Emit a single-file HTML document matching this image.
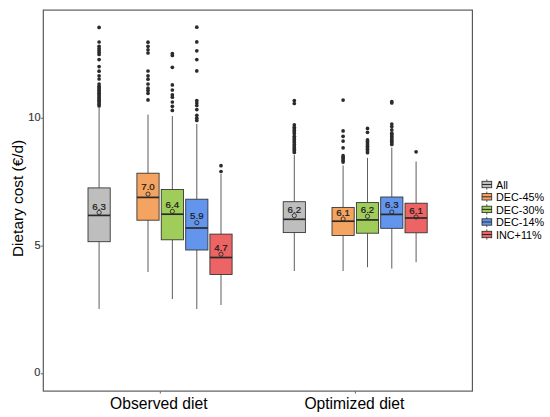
<!DOCTYPE html>
<html><head><meta charset="utf-8"><style>
html,body{margin:0;padding:0;background:#fff;}
body{width:550px;height:417px;overflow:hidden;}
svg{display:block;font-family:"Liberation Sans",sans-serif;}
.wh{stroke:#555;stroke-width:0.95;}
.bx{stroke:#2e2e2e;stroke-width:0.85;}
.md{stroke:#2a2a2a;stroke-width:1.7;}
.lmd{stroke:#2a2a2a;stroke-width:1;}
.mn{fill:none;stroke:#2a2a2a;stroke-width:0.9;}
.pt circle{fill:#2b2b2b;}
.lb{font-size:9.7px;fill:#1a1a1a;stroke:#1a1a1a;stroke-width:0.22px;text-anchor:middle;}
.lt{font-size:10.8px;fill:#000;}
.tk{font-size:11px;fill:#333;stroke:#333;stroke-width:0.15px;text-anchor:end;}
.at{font-size:15.4px;fill:#000;}
.xl{font-size:15.65px;}
</style></head><body>
<svg width="550" height="417" viewBox="0 0 550 417">
<rect x="0" y="0" width="550" height="417" fill="#fff"/>
<line x1="99.1" y1="108.0" x2="99.1" y2="187.9" class="wh"/><line x1="99.1" y1="241.7" x2="99.1" y2="309.0" class="wh"/><g class="pt"><circle cx="99.1" cy="27.4" r="1.85"/><circle cx="99.1" cy="42.0" r="1.85"/><circle cx="99.1" cy="46.3" r="1.85"/><circle cx="99.1" cy="48.5" r="1.85"/><circle cx="99.1" cy="50.5" r="1.85"/><circle cx="99.1" cy="52.5" r="1.85"/><circle cx="99.1" cy="54.5" r="1.85"/><circle cx="99.1" cy="59.6" r="1.85"/><circle cx="99.1" cy="66.6" r="1.85"/><circle cx="99.1" cy="71.2" r="1.85"/><circle cx="99.1" cy="75.8" r="1.85"/><circle cx="99.1" cy="79.0" r="1.85"/><circle cx="99.1" cy="84.0" r="1.85"/><circle cx="99.1" cy="86.3" r="1.85"/><circle cx="99.1" cy="87.7" r="1.85"/><circle cx="99.1" cy="89.1" r="1.85"/><circle cx="99.1" cy="90.5" r="1.85"/><circle cx="99.1" cy="91.9" r="1.85"/><circle cx="99.1" cy="93.3" r="1.85"/><circle cx="99.1" cy="94.7" r="1.85"/><circle cx="99.1" cy="96.1" r="1.85"/><circle cx="99.1" cy="97.5" r="1.85"/><circle cx="99.1" cy="98.9" r="1.85"/><circle cx="99.1" cy="100.3" r="1.85"/><circle cx="99.1" cy="101.7" r="1.85"/><circle cx="99.1" cy="103.1" r="1.85"/><circle cx="99.1" cy="104.5" r="1.85"/><circle cx="99.1" cy="105.9" r="1.85"/></g><rect x="88.00" y="187.9" width="22.2" height="53.80" fill="#bebebe" class="bx"/><line x1="88.00" y1="215.4" x2="110.20" y2="215.4" class="md"/><circle cx="99.1" cy="212.5" r="2.1" class="mn"/><text x="99.1" y="209.7" class="lb">6.3</text><line x1="148.0" y1="114.6" x2="148.0" y2="173.2" class="wh"/><line x1="148.0" y1="220.2" x2="148.0" y2="272.0" class="wh"/><g class="pt"><circle cx="148.0" cy="42.2" r="1.85"/><circle cx="148.0" cy="46.3" r="1.85"/><circle cx="148.0" cy="49.8" r="1.85"/><circle cx="148.0" cy="53.0" r="1.85"/><circle cx="148.0" cy="71.0" r="1.85"/><circle cx="148.0" cy="75.8" r="1.85"/><circle cx="148.0" cy="79.2" r="1.85"/><circle cx="148.0" cy="84.0" r="1.85"/><circle cx="148.0" cy="88.2" r="1.85"/><circle cx="148.0" cy="90.5" r="1.85"/><circle cx="148.0" cy="93.3" r="1.85"/><circle cx="148.0" cy="99.9" r="1.85"/></g><rect x="136.90" y="173.2" width="22.2" height="47.00" fill="#f4a460" class="bx"/><line x1="136.90" y1="197.4" x2="159.10" y2="197.4" class="md"/><circle cx="148.0" cy="194.1" r="2.1" class="mn"/><text x="148.0" y="189.9" class="lb">7.0</text><line x1="172.35" y1="116.0" x2="172.35" y2="189.5" class="wh"/><line x1="172.35" y1="239.8" x2="172.35" y2="299.0" class="wh"/><g class="pt"><circle cx="172.35" cy="53.5" r="1.85"/><circle cx="172.35" cy="55.5" r="1.85"/><circle cx="172.35" cy="67.3" r="1.85"/><circle cx="172.35" cy="84.9" r="1.85"/><circle cx="172.35" cy="90.0" r="1.85"/><circle cx="172.35" cy="94.8" r="1.85"/><circle cx="172.35" cy="97.2" r="1.85"/><circle cx="172.35" cy="102.0" r="1.85"/><circle cx="172.35" cy="106.3" r="1.85"/><circle cx="172.35" cy="110.4" r="1.85"/></g><rect x="161.25" y="189.5" width="22.2" height="50.30" fill="#a0cd5a" class="bx"/><line x1="161.25" y1="214.2" x2="183.45" y2="214.2" class="md"/><circle cx="172.35" cy="211.4" r="2.1" class="mn"/><text x="172.35" y="207.6" class="lb">6.4</text><line x1="196.8" y1="124.0" x2="196.8" y2="199.2" class="wh"/><line x1="196.8" y1="250.0" x2="196.8" y2="309.0" class="wh"/><g class="pt"><circle cx="196.8" cy="27.2" r="1.85"/><circle cx="196.8" cy="41.9" r="1.85"/><circle cx="196.8" cy="50.8" r="1.85"/><circle cx="196.8" cy="59.6" r="1.85"/><circle cx="196.8" cy="70.9" r="1.85"/><circle cx="196.8" cy="100.6" r="1.85"/><circle cx="196.8" cy="103.0" r="1.85"/><circle cx="196.8" cy="105.5" r="1.85"/><circle cx="196.8" cy="109.6" r="1.85"/><circle cx="196.8" cy="115.3" r="1.85"/><circle cx="196.8" cy="118.2" r="1.85"/><circle cx="196.8" cy="120.4" r="1.85"/></g><rect x="185.70" y="199.2" width="22.2" height="50.80" fill="#6495ed" class="bx"/><line x1="185.70" y1="228.0" x2="207.90" y2="228.0" class="md"/><circle cx="196.8" cy="222.7" r="2.1" class="mn"/><text x="196.8" y="219.0" class="lb">5.9</text><line x1="221.0" y1="174.0" x2="221.0" y2="234.1" class="wh"/><line x1="221.0" y1="274.5" x2="221.0" y2="305.0" class="wh"/><g class="pt"><circle cx="221.0" cy="165.7" r="1.85"/><circle cx="221.0" cy="171.5" r="1.85"/></g><rect x="209.90" y="234.1" width="22.2" height="40.40" fill="#ec6464" class="bx"/><line x1="209.90" y1="257.5" x2="232.10" y2="257.5" class="md"/><circle cx="221.0" cy="254.2" r="2.1" class="mn"/><text x="221.0" y="250.6" class="lb">4.7</text><line x1="294.3" y1="155.0" x2="294.3" y2="201.7" class="wh"/><line x1="294.3" y1="232.6" x2="294.3" y2="271.0" class="wh"/><g class="pt"><circle cx="294.3" cy="100.5" r="1.85"/><circle cx="294.3" cy="103.5" r="1.85"/><circle cx="294.3" cy="124.8" r="1.85"/><circle cx="294.3" cy="127.2" r="1.85"/><circle cx="294.3" cy="128.8" r="1.85"/><circle cx="294.3" cy="130.4" r="1.85"/><circle cx="294.3" cy="132.0" r="1.85"/><circle cx="294.3" cy="133.6" r="1.85"/><circle cx="294.3" cy="136.2" r="1.85"/><circle cx="294.3" cy="137.8" r="1.85"/><circle cx="294.3" cy="139.4" r="1.85"/><circle cx="294.3" cy="141.0" r="1.85"/><circle cx="294.3" cy="142.6" r="1.85"/><circle cx="294.3" cy="144.4" r="1.85"/><circle cx="294.3" cy="146.0" r="1.85"/><circle cx="294.3" cy="147.6" r="1.85"/><circle cx="294.3" cy="149.2" r="1.85"/><circle cx="294.3" cy="150.8" r="1.85"/><circle cx="294.3" cy="152.4" r="1.85"/></g><rect x="283.20" y="201.7" width="22.2" height="30.90" fill="#bebebe" class="bx"/><line x1="283.20" y1="219.3" x2="305.40" y2="219.3" class="md"/><circle cx="294.3" cy="215.6" r="2.1" class="mn"/><text x="294.3" y="212.6" class="lb">6.2</text><line x1="343.1" y1="165.4" x2="343.1" y2="207.4" class="wh"/><line x1="343.1" y1="235.5" x2="343.1" y2="271.0" class="wh"/><g class="pt"><circle cx="343.1" cy="100.1" r="1.85"/><circle cx="343.1" cy="130.9" r="1.85"/><circle cx="343.1" cy="136.3" r="1.85"/><circle cx="343.1" cy="141.1" r="1.85"/><circle cx="343.1" cy="147.8" r="1.85"/><circle cx="343.1" cy="155.7" r="1.85"/><circle cx="343.1" cy="157.3" r="1.85"/><circle cx="343.1" cy="158.9" r="1.85"/><circle cx="343.1" cy="160.5" r="1.85"/><circle cx="343.1" cy="162.1" r="1.85"/></g><rect x="332.00" y="207.4" width="22.2" height="28.10" fill="#f4a460" class="bx"/><line x1="332.00" y1="221.2" x2="354.20" y2="221.2" class="md"/><circle cx="343.1" cy="219.0" r="2.1" class="mn"/><text x="343.1" y="216.1" class="lb">6.1</text><line x1="367.5" y1="157.9" x2="367.5" y2="202.6" class="wh"/><line x1="367.5" y1="233.2" x2="367.5" y2="267.2" class="wh"/><g class="pt"><circle cx="367.5" cy="128.4" r="1.85"/><circle cx="367.5" cy="132.3" r="1.85"/><circle cx="367.5" cy="139.9" r="1.85"/><circle cx="367.5" cy="141.5" r="1.85"/><circle cx="367.5" cy="143.1" r="1.85"/><circle cx="367.5" cy="144.7" r="1.85"/><circle cx="367.5" cy="146.3" r="1.85"/><circle cx="367.5" cy="147.9" r="1.85"/><circle cx="367.5" cy="149.5" r="1.85"/><circle cx="367.5" cy="151.1" r="1.85"/><circle cx="367.5" cy="152.7" r="1.85"/></g><rect x="356.40" y="202.6" width="22.2" height="30.60" fill="#a0cd5a" class="bx"/><line x1="356.40" y1="219.9" x2="378.60" y2="219.9" class="md"/><circle cx="367.5" cy="216.3" r="2.1" class="mn"/><text x="367.5" y="212.8" class="lb">6.2</text><line x1="391.8" y1="147.6" x2="391.8" y2="197.0" class="wh"/><line x1="391.8" y1="228.3" x2="391.8" y2="268.6" class="wh"/><g class="pt"><circle cx="391.8" cy="101.5" r="1.85"/><circle cx="391.8" cy="103.0" r="1.85"/><circle cx="391.8" cy="124.0" r="1.85"/><circle cx="391.8" cy="126.5" r="1.85"/><circle cx="391.8" cy="129.9" r="1.85"/><circle cx="391.8" cy="133.2" r="1.85"/><circle cx="391.8" cy="134.8" r="1.85"/><circle cx="391.8" cy="136.4" r="1.85"/><circle cx="391.8" cy="138.0" r="1.85"/><circle cx="391.8" cy="139.6" r="1.85"/><circle cx="391.8" cy="141.2" r="1.85"/><circle cx="391.8" cy="142.8" r="1.85"/><circle cx="391.8" cy="144.4" r="1.85"/></g><rect x="380.70" y="197.0" width="22.2" height="31.30" fill="#6495ed" class="bx"/><line x1="380.70" y1="214.4" x2="402.90" y2="214.4" class="md"/><circle cx="391.8" cy="212.0" r="2.1" class="mn"/><text x="391.8" y="208.4" class="lb">6.3</text><line x1="416.1" y1="161.5" x2="416.1" y2="203.2" class="wh"/><line x1="416.1" y1="232.8" x2="416.1" y2="262.2" class="wh"/><g class="pt"><circle cx="416.1" cy="151.8" r="1.85"/></g><rect x="405.00" y="203.2" width="22.2" height="29.60" fill="#ec6464" class="bx"/><line x1="405.00" y1="218.0" x2="427.20" y2="218.0" class="md"/><circle cx="416.1" cy="217.0" r="2.1" class="mn"/><text x="416.1" y="213.9" class="lb">6.1</text>
<rect x="43.3" y="10.1" width="429.1" height="381" fill="none" stroke="#555" stroke-width="1.15"/>
<line x1="40.8" y1="118.3" x2="43.3" y2="118.3" stroke="#666" stroke-width="1"/>
<line x1="40.8" y1="246.1" x2="43.3" y2="246.1" stroke="#666" stroke-width="1"/>
<line x1="40.8" y1="373.8" x2="43.3" y2="373.8" stroke="#666" stroke-width="1"/>
<line x1="160.3" y1="391.1" x2="160.3" y2="393.6" stroke="#666" stroke-width="1"/>
<line x1="355.4" y1="391.1" x2="355.4" y2="393.6" stroke="#666" stroke-width="1"/>
<text x="40.6" y="120.6" class="tk">10</text>
<text x="40.6" y="248.7" class="tk">5</text>
<text x="40.4" y="375.9" class="tk">0</text>
<text x="158.8" y="409.0" class="at xl" text-anchor="middle">Observed diet</text>
<text x="354.4" y="409.0" class="at xl" text-anchor="middle">Optimized diet</text>
<text transform="translate(22.6,198.4) rotate(-90)" class="at" text-anchor="middle">Dietary cost (€/d)</text>
<line x1="486.8" y1="179.3" x2="486.8" y2="189.7" class="wh"/><rect x="482" y="181.3" width="9.7" height="6.4" fill="#bebebe" class="bx"/><line x1="482" y1="184.5" x2="491.7" y2="184.5" class="lmd"/><text x="496" y="188.7" class="lt">All</text><line x1="486.8" y1="191.60000000000002" x2="486.8" y2="202.0" class="wh"/><rect x="482" y="193.60000000000002" width="9.7" height="6.4" fill="#f4a460" class="bx"/><line x1="482" y1="196.8" x2="491.7" y2="196.8" class="lmd"/><text x="496" y="201.0" class="lt">DEC-45%</text><line x1="486.8" y1="204.20000000000002" x2="486.8" y2="214.6" class="wh"/><rect x="482" y="206.20000000000002" width="9.7" height="6.4" fill="#a0cd5a" class="bx"/><line x1="482" y1="209.4" x2="491.7" y2="209.4" class="lmd"/><text x="496" y="213.6" class="lt">DEC-30%</text><line x1="486.8" y1="216.8" x2="486.8" y2="227.2" class="wh"/><rect x="482" y="218.8" width="9.7" height="6.4" fill="#6495ed" class="bx"/><line x1="482" y1="222.0" x2="491.7" y2="222.0" class="lmd"/><text x="496" y="226.2" class="lt">DEC-14%</text><line x1="486.8" y1="229.3" x2="486.8" y2="239.7" class="wh"/><rect x="482" y="231.3" width="9.7" height="6.4" fill="#ec6464" class="bx"/><line x1="482" y1="234.5" x2="491.7" y2="234.5" class="lmd"/><text x="496" y="238.7" class="lt">INC+11%</text>
</svg>
</body></html>
